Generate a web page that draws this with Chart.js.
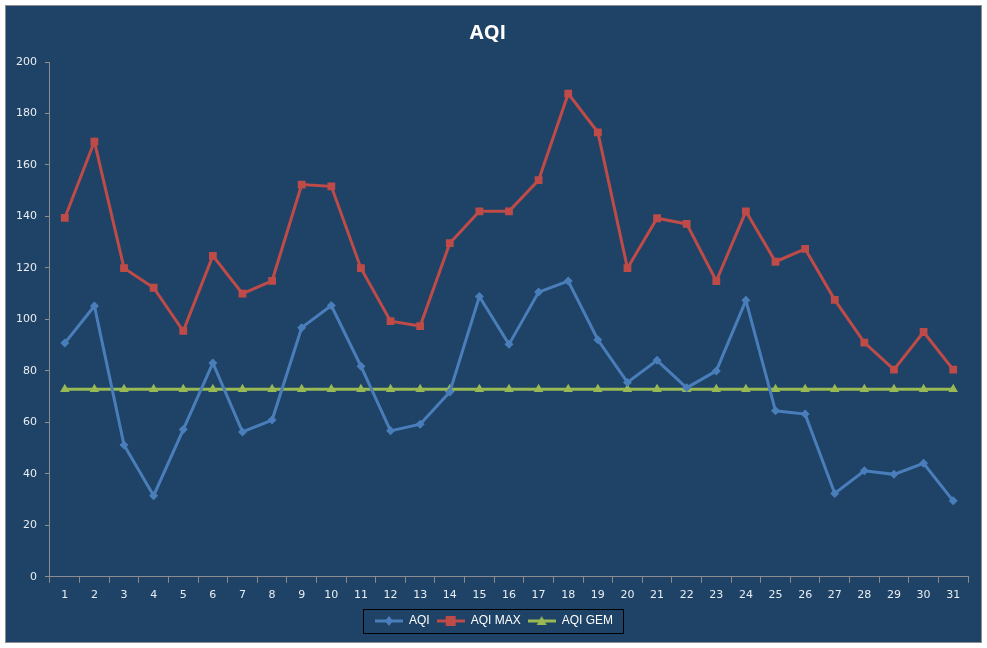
<!DOCTYPE html>
<html>
<head>
<meta charset="utf-8">
<script src="https://cdn.jsdelivr.net/npm/chart.js@4.4.1/dist/chart.umd.min.js"></script>
<style>
  html, body { margin: 0; padding: 0; background: #ffffff; }
  #frame {
    position: absolute; left: 5px; top: 5px;
    width: 975px; height: 636px;
    background: #1f4366;
    border: 1px solid #8c8c8c;
  }
  #chart { display: block; }
</style>
</head>
<body>
<div id="frame"><canvas id="chart" width="975" height="636"></canvas></div>
<script>
// days of the month
const days = ['1','2','3','4','5','6','7','8','9','10','11','12','13','14','15','16',
  '17','18','19','20','21','22','23','24','25','26','27','28','29','30','31'];

const aqi = [90.8, 105.2, 51.2, 31.5, 57.2, 83.1, 56.3, 60.9, 96.8, 105.4, 81.8,
  56.7, 59.3, 71.8, 108.9, 90.3, 110.6, 114.9, 92.1, 75.5, 84.1, 73.4, 80.0,
  107.4, 64.5, 63.2, 32.4, 41.2, 39.8, 44.1, 29.5];

const aqiMax = [139.4, 169.1, 119.9, 112.3, 95.5, 124.7, 110.0, 115.0, 152.4, 151.7,
  119.9, 99.3, 97.4, 129.6, 142.0, 142.0, 154.1, 187.7, 172.7, 119.9, 139.3, 137.1,
  114.9, 142.0, 122.4, 127.4, 107.6, 91.0, 80.5, 95.1, 80.5];

const aqiGem = [72.9, 72.9, 72.9, 72.9, 72.9, 72.9, 72.9, 72.9, 72.9, 72.9, 72.9,
  72.9, 72.9, 72.9, 72.9, 72.9, 72.9, 72.9, 72.9, 72.9, 72.9, 72.9, 72.9, 72.9,
  72.9, 72.9, 72.9, 72.9, 72.9, 72.9, 72.9];

const seriesNames = ['AQI', 'AQI MAX', 'AQI GEM'];
const seriesColors = ['#4a7ebb', '#be4b48', '#98b954'];
const seriesMarkers = ['rectRot', 'rect', 'triangle'];
const seriesRadius = [4.5, 5.5, 5.5];

const axisColor = '#8c8c8c';
const textColor = '#e8edf3';
const tickFont = { family: 'DejaVu Sans', size: 11 };

// little line+marker pictures for the legend
function legendIcon(color, marker) {
  const c = document.createElement('canvas');
  c.width = 28; c.height = 12;
  const g = c.getContext('2d');
  g.strokeStyle = color;
  g.fillStyle = color;
  g.lineWidth = 3;
  g.beginPath(); g.moveTo(0, 6); g.lineTo(28, 6); g.stroke();
  g.beginPath();
  if (marker === 'rect') {
    g.rect(9, 1, 10, 10);
  } else if (marker === 'rectRot') {
    g.moveTo(14, 1); g.lineTo(18, 6); g.lineTo(14, 11); g.lineTo(10, 6);
  } else {
    g.moveTo(14, 1); g.lineTo(19, 10); g.lineTo(9, 10);
  }
  g.closePath(); g.fill();
  return c;
}

// nudge the legend a little to the right and put a frame round it
const legendShift = 6;
const legendBox = {
  id: 'legendBox',
  afterUpdate(chart) {
    const lg = chart.legend;
    lg.left += legendShift;
    lg.right += legendShift;
    lg.legendHitBoxes.forEach(b => { b.left += legendShift; });
  },
  afterDraw(chart) {
    const boxes = chart.legend.legendHitBoxes;
    if (!boxes || !boxes.length) return;
    const left = Math.min(...boxes.map(b => b.left)) - 12;
    const right = Math.max(...boxes.map(b => b.left + b.width)) + 10;
    const top = boxes[0].top - 6;
    const bottom = boxes[0].top + boxes[0].height + 6;
    const ctx = chart.ctx;
    ctx.save();
    ctx.strokeStyle = '#000000';
    ctx.lineWidth = 1;
    ctx.strokeRect(Math.round(left) + 0.5, Math.round(top) + 0.5,
      Math.round(right - left), Math.round(bottom - top));
    ctx.restore();
  }
};

const ctx = document.getElementById('chart').getContext('2d');
new Chart(ctx, {
  type: 'line',
  data: {
    labels: days,
    datasets: [aqi, aqiMax, aqiGem].map((vals, i) => ({
      label: seriesNames[i],
      data: vals,
      borderColor: seriesColors[i],
      backgroundColor: seriesColors[i],
      borderWidth: 3,
      pointStyle: seriesMarkers[i],
      pointRadius: seriesRadius[i],
      pointBorderWidth: 0,
      tension: 0,
      fill: false
    }))
  },
  options: {
    responsive: false,
    animation: false,
    layout: { padding: { left: 2, right: 13, top: 0, bottom: 5 } },
    plugins: {
      title: {
        display: true,
        text: 'AQI',
        color: '#ffffff',
        font: { family: 'Open Sans', size: 20, weight: 'bold' },
        padding: { top: 15, bottom: 17 }
      },
      legend: {
        position: 'bottom',
        labels: {
          color: '#ffffff',
          font: { family: 'Liberation Sans', size: 12 },
          usePointStyle: true,
          pointStyleWidth: 28,
          padding: 7,
          generateLabels(chart) {
            const items = Chart.defaults.plugins.legend.labels.generateLabels(chart);
            items.forEach((it, i) => {
              it.pointStyle = legendIcon(seriesColors[i], seriesMarkers[i]);
              it.fontColor = '#ffffff';
            });
            return items;
          }
        }
      },
      tooltip: { enabled: false }
    },
    scales: {
      x: {
        offset: true,
        grid: {
          display: true, offset: true, drawOnChartArea: false,
          color: axisColor, tickLength: 6
        },
        border: { color: axisColor },
        ticks: { color: textColor, font: tickFont, padding: 6, maxRotation: 0, autoSkip: false }
      },
      y: {
        min: 0, max: 200,
        grid: {
          display: true, drawOnChartArea: false,
          color: axisColor, tickLength: 5
        },
        border: { color: axisColor },
        ticks: { stepSize: 20, color: textColor, font: tickFont, padding: 8 }
      }
    }
  },
  plugins: [legendBox]
});
</script>
</body>
</html>
